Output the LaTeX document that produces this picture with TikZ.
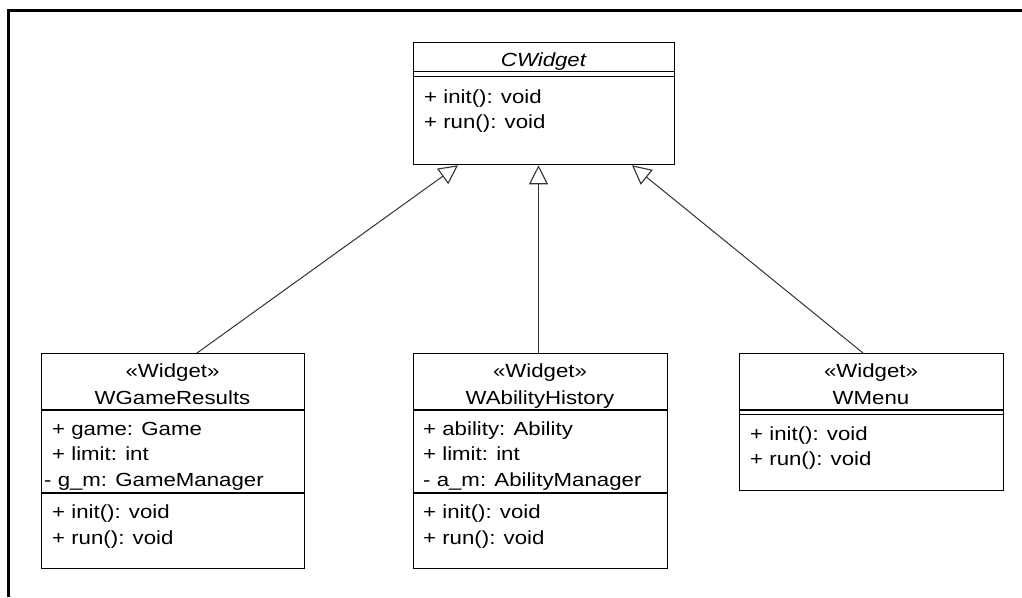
\documentclass[tikz,border=0pt]{standalone}
\usepackage{fontspec}
\setmainfont[FakeStretch=1.17]{Liberation Sans}
\usetikzlibrary{arrows.meta,calc}
\newcommand\umlfont{\fontsize{19}{22}\selectfont}
\begin{document}
\begin{tikzpicture}[x=1pt,y=-1pt,
  every node/.style={font=\umlfont},
  box/.style={draw=black, line width=1.3pt, fill=white, inner sep=0pt, anchor=north west},
  txt/.style={anchor=base west, inner sep=0pt},
  ctxt/.style={anchor=base, inner sep=0pt},
  sepline/.style={line width=1.3pt},
  inh/.style={line width=1pt, draw=black!80, -{Triangle[open, length=19pt, width=19pt, line width=1.1pt]}}]
\useasboundingbox (0,0) rectangle (1022,597);
\fill[white] (0,0) rectangle (1022,597);
\draw[line width=3pt] (8.5,597) -- (8.5,10.5) -- (1022,10.5);

% CWidget
\node[box, minimum width=261pt, minimum height=122pt] (cw) at (413,42) {};
\node[ctxt, font=\umlfont\itshape] (cwname) at (543.5,66.7) {CWidget};
\draw[sepline] ($(cw.north west)+(0,29.7)$) -- ($(cw.north east)+(0,29.7)$);
\draw[sepline] ($(cw.north west)+(0,34.7)$) -- ($(cw.north east)+(0,34.7)$);
\node[txt] (cwm1) at (424,103.3) {+ init(): void};
\node[txt] (cwm2) at (424,128.3) {+ run(): void};

% WGameResults
\node[box, minimum width=263pt, minimum height=215pt] (gr) at (41,353) {};
\node[ctxt] (grst) at (172.5,377) {«Widget»};
\node[ctxt] (grname) at (172.5,404) {WGameResults};
\draw[sepline] ($(gr.north west)+(0,57)$) -- ($(gr.north east)+(0,57)$);
\node[txt] (gra1) at (52,435.7) {+ game: Game};
\node[txt] (gra2) at (52,460.7) {+ limit: int};
\node[txt] (gra3) at (44,486.7) {- g\_m: GameManager};
\draw[sepline] ($(gr.north west)+(0,140)$) -- ($(gr.north east)+(0,140)$);
\node[txt] (grm1) at (52,518.3) {+ init(): void};
\node[txt] (grm2) at (52,544) {+ run(): void};

% WAbilityHistory
\node[box, minimum width=254pt, minimum height=215pt] (ah) at (413,353) {};
\node[ctxt] (ahst) at (540,377) {«Widget»};
\node[ctxt] (ahname) at (540,404) {WAbilityHistory};
\draw[sepline] ($(ah.north west)+(0,57)$) -- ($(ah.north east)+(0,57)$);
\node[txt] (aha1) at (423,435.7) {+ ability: Ability};
\node[txt] (aha2) at (423,460.7) {+ limit: int};
\node[txt] (aha3) at (423,486.7) {- a\_m: AbilityManager};
\draw[sepline] ($(ah.north west)+(0,140)$) -- ($(ah.north east)+(0,140)$);
\node[txt] (ahm1) at (423,518.3) {+ init(): void};
\node[txt] (ahm2) at (423,544) {+ run(): void};

% WMenu
\node[box, minimum width=264pt, minimum height=137pt] (wm) at (739,353) {};
\node[ctxt] (wmst) at (871,377) {«Widget»};
\node[ctxt] (wmname) at (871,404) {WMenu};
\draw[sepline] ($(wm.north west)+(0,57)$) -- ($(wm.north east)+(0,57)$);
\draw[sepline] ($(wm.north west)+(0,61.5)$) -- ($(wm.north east)+(0,61.5)$);
\node[txt] (wmm1) at (750,440) {+ init(): void};
\node[txt] (wmm2) at (750,465.7) {+ run(): void};

% generalisations
\draw[inh] ($(gr.north west)+(156,0)$) -- ($(cw.south west)+(45,0)$);
\draw[inh] ($(ah.north west)+(125.5,0)$) -- ($(cw.south west)+(125.5,0)$);
\draw[inh] ($(wm.north west)+(124,0)$) -- ($(cw.south west)+(219,0)$);
\end{tikzpicture}
\end{document}
